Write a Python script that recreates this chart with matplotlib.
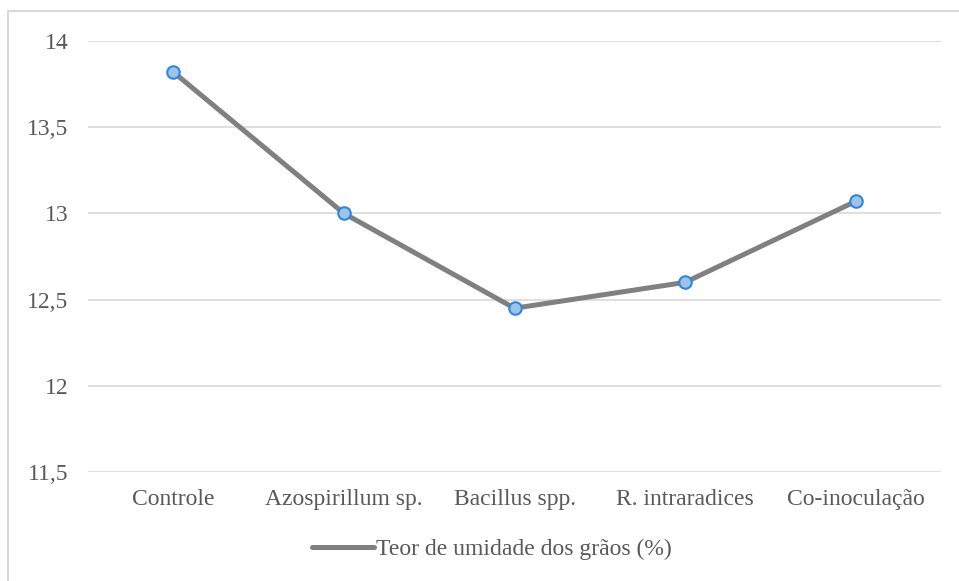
import matplotlib
matplotlib.use("Agg")
import matplotlib.pyplot as plt
from matplotlib.patches import Rectangle
from matplotlib.ticker import FuncFormatter

# moisture content per treatment
tratamentos = ["Controle", "Azospirillum sp.", "Bacillus spp.", "R. intraradices", "Co-inoculação"]
umidade = [13.82, 13.00, 12.45, 12.60, 13.07]
yticks = [11.5, 12, 12.5, 13, 13.5, 14]

plt.rcParams['font.family'] = 'serif'
plt.rcParams['font.serif'] = ['Liberation Serif', 'DejaVu Serif']
text_color = '#595959'

fig = plt.figure(figsize=(9.59, 5.81), dpi=100)
ax = fig.add_axes([88 / 959, 1 - 472 / 581, (941 - 88) / 959, (472 - 41) / 581])

# chart border
fig.patches.append(Rectangle((8 / 959, -0.05), 1.05, 1 - 11 / 581 + 0.05,
                             transform=fig.transFigure, fill=False,
                             edgecolor='#d9d9d9', linewidth=1.5))

x = list(range(len(tratamentos)))
ax.plot(x, umidade, color='#808080', linewidth=3.6, solid_capstyle='round',
        marker='o', markersize=9, markerfacecolor='#9dc3e6',
        markeredgecolor='#2f86de', markeredgewidth=1.5,
        label='Teor de umidade dos grãos (%)', zorder=3)

ax.set_xlim(-0.5, len(tratamentos) - 0.5)
ax.set_ylim(11.5, 14)
ax.set_yticks(yticks)
ax.yaxis.set_major_formatter(FuncFormatter(lambda v, p: f"{v:g}".replace('.', ',')))
ax.set_xticks(x)
ax.set_xticklabels(tratamentos)
ax.grid(axis='y', color='#d9d9d9', linewidth=1.2)
ax.set_axisbelow(True)
for s in ax.spines.values():
    s.set_visible(False)
ax.tick_params(axis='both', length=0, labelsize=17, labelcolor=text_color)
ax.tick_params(axis='y', pad=14)
ax.tick_params(axis='x', pad=12)

leg = ax.legend(loc='center', bbox_to_anchor=(0.4736, -0.18), frameon=False,
                fontsize=17, handlelength=2.6, handletextpad=0.1, borderaxespad=0)
for t in leg.get_texts():
    t.set_color(text_color)
for h in leg.get_lines():
    h.set_marker('')

fig.savefig('out.png', dpi=100)
